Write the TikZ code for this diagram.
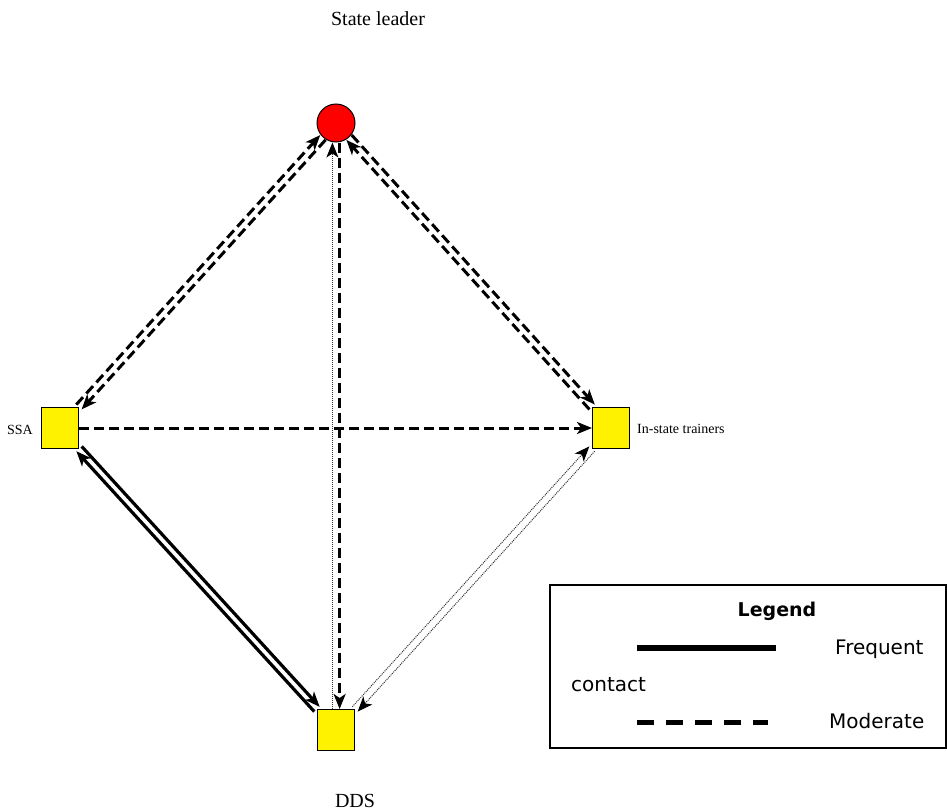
\documentclass[tikz,border=0pt]{standalone}
\usepackage{fontspec}
\setmainfont{Liberation Serif}
\newfontfamily\legendfont{DejaVu Sans}
\usetikzlibrary{arrows.meta}

\begin{document}
\begin{tikzpicture}[
    x = 1pt, y = -1pt,
    > = {Stealth[length = 15pt, width = 12pt, inset = 4pt, color = black]},
    actor/.style = {
      rectangle,
      draw = black, line width = 1pt,
      fill = yellow,
      minimum width = 37pt,
      minimum height = 41pt,
    },
    head/.style = {
      circle,
      draw = black, line width = 1pt,
      fill = red,
      minimum size = 38pt,
    },
    nametag/.style = {
      inner sep = 0,
      anchor = base,
    },
    big/.style = {font = \fontsize{20}{24}\selectfont},
    small/.style = {font = \fontsize{14}{17}\selectfont},
    keytext/.style = {font = \legendfont\fontsize{20}{24}\selectfont},
    frequent/.style = {line width = 3.2pt},
    moderate/.style = {line width = 3pt, dash pattern = on 10pt off 5pt},
    sparse/.style = {line width = 1pt, black!80, dash pattern = on 1pt off 1pt},
    side/.style = {transform canvas = {shift = {(#1:3.6pt)}}},
  ]
  \useasboundingbox (0, 0) rectangle (947, 811);

  % actors
  \node[head]  (leader)   at (336, 123) {};
  \node[actor] (ssa)      at (60, 428)  {};
  \node[actor] (trainers) at (611, 428) {};
  \node[actor] (dds)      at (336, 730) {};

  \node[nametag, big]   (leadername)   at (378, 25)  {State leader};
  \node[nametag, small] (ssaname)      at (20, 434)  {SSA};
  \node[nametag, small, anchor = base west] (trainersname) at (637, 433) {In-state trainers};
  \node[nametag, big]   (ddsname)      at (355, 807) {DDS};

  \begin{scope}[->]
    \draw[moderate, side = 138] (ssa) -- (leader);
    \draw[moderate, side = 318] (leader) -- (ssa);
    \draw[moderate, side = 42]  (leader) -- (trainers);
    \draw[moderate, side = 222] (trainers) -- (leader);
    \draw[moderate, side = 0]   (leader) -- (dds);
    \draw[sparse, side = 180]   (dds) -- (leader);
    \draw[moderate] (ssa) -- (trainers);

    \draw[frequent, side = 42]  (ssa) -- (dds);
    \draw[frequent, side = 222] (dds) -- (ssa);
    \draw[sparse, side = 318]   (trainers) -- (dds);
    \draw[sparse, side = 138]   (dds) -- (trainers);
  \end{scope}

  % legend
  \node[draw, line width = 1.5pt, inner sep = 0,
        minimum width = 396pt, minimum height = 163pt] (legend) at (748, 666.5) {};
  \node[nametag, font = \legendfont\bfseries\fontsize{19}{23}\selectfont] (legendtitle) at (777, 616) {Legend};
  \draw[line width = 6pt] (637, 648) -- (776, 648);
  \node[nametag, keytext, anchor = base west] (frequentkey) at (835, 654) {Frequent};
  \node[nametag, keytext, anchor = base west] (contactkey)  at (571, 691) {contact};
  \draw[line width = 5pt, dash pattern = on 17pt off 12pt] (637, 722) -- (768, 722);
  \node[nametag, keytext, anchor = base west] (moderatekey) at (829, 728) {Moderate};
\end{tikzpicture}
\end{document}
